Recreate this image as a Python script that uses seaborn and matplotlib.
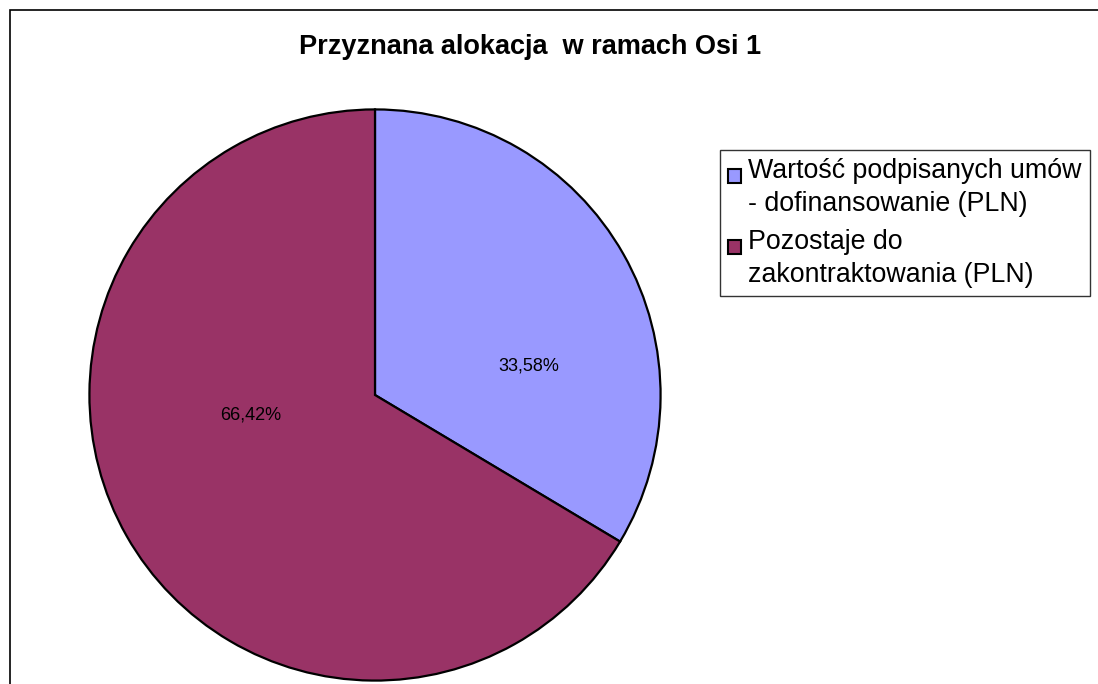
import matplotlib
matplotlib.use("Agg")
import matplotlib.pyplot as plt
import seaborn as sns
from matplotlib.patches import Rectangle
from matplotlib.legend_handler import HandlerPatch

# data
labels = ["Wartość podpisanych umów\n- dofinansowanie (PLN)",
          "Pozostaje do\nzakontraktowania (PLN)"]
shares = [33.58, 66.42]
colors = ["#9999FF", "#993366"]
title = "Przyznana alokacja  w ramach Osi 1"

sns.set_theme(style="white")
plt.rcParams['font.family'] = ['Liberation Sans', 'DejaVu Sans']
plt.rcParams['text.color'] = 'black'


class TopSquare(HandlerPatch):
    # Excel puts the legend key next to the first line of the label
    def create_artists(self, legend, orig_handle, xdescent, ydescent,
                       width, height, fontsize, trans):
        s = 0.5 * fontsize
        p = Rectangle((-xdescent, -ydescent + height - s), s, s)
        self.update_prop(p, orig_handle, legend)
        p.set_transform(trans)
        return [p]


W, H = 1098, 684
fig = plt.figure(figsize=(W / 100, H / 100), dpi=100)
fig.patch.set_facecolor("white")

# outer chart border (runs off the right and bottom edges)
fig.patches.append(Rectangle((9.5 / W, -0.05), 1.2, 1 - 9.5 / H + 0.05,
                             transform=fig.transFigure, fill=False,
                             edgecolor="black", linewidth=1.2))

# pie axes: centre (375, 395) px, radius 287 px
cx, cy, r = 375, 395, 287
ax = fig.add_axes([(cx - r) / W, (H - cy - r) / H, 2 * r / W, 2 * r / H])
wedges, texts, autotexts = ax.pie(
    shares, colors=colors, startangle=90, counterclock=False,
    autopct=lambda p: f"{p:.2f}%".replace(".", ","), pctdistance=0.5,
    wedgeprops=dict(edgecolor="black", linewidth=1.6),
    textprops=dict(fontsize=13, color="black"))
ax.set_xlim(-1.005, 1.005)
ax.set_ylim(-1.005, 1.005)
ax.set_aspect("equal")
for w in wedges:
    w.set_clip_on(False)

# Excel-style label placement
autotexts[0].set_position((0.54, 0.10))
autotexts[1].set_position((-0.435, -0.07))

fig.text(530 / W, 1 - 47 / H, title, ha="center", va="center",
         fontsize=19.5, fontweight="bold", color="black")

leg = fig.legend(wedges, labels, loc="upper left",
                 bbox_to_anchor=(720 / W, 1 - 150 / H),
                 bbox_transform=fig.transFigure,
                 handler_map={w: TopSquare() for w in wedges},
                 fontsize=19.3, frameon=True, fancybox=False,
                 edgecolor="black", handlelength=0.55, handleheight=1.9,
                 handletextpad=0.2, borderpad=0.3, labelspacing=0.45,
                 borderaxespad=0)
leg.get_frame().set_linewidth(1.0)
for t in leg.get_texts():
    t.set_linespacing(1.35)
    t.set_color("black")
for h in leg.legend_handles:
    h.set_edgecolor("black")
    h.set_linewidth(1.5)

fig.savefig("out.png", dpi=100)
